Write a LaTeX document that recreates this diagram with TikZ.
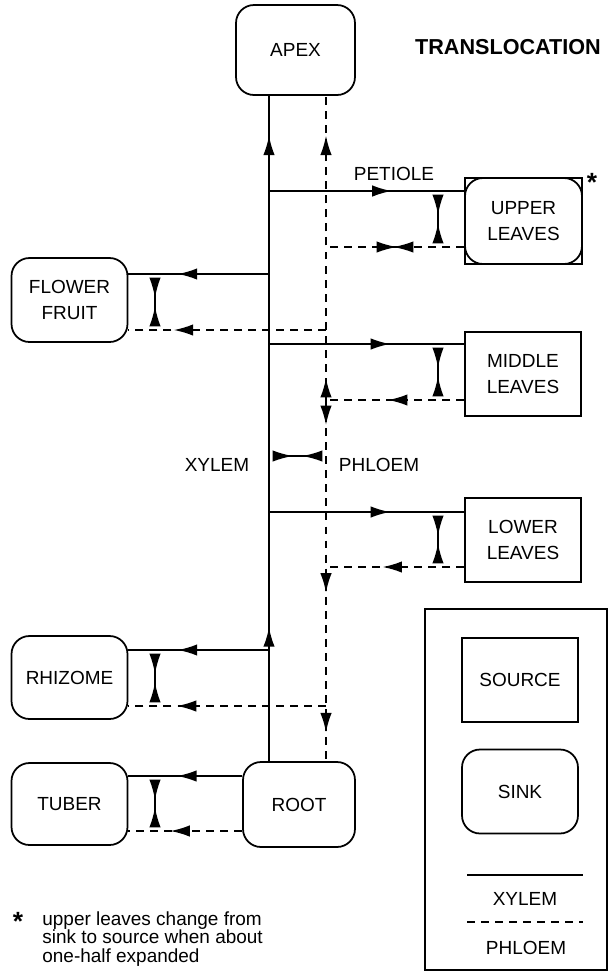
\documentclass[tikz,border=0pt]{standalone}
\usepackage{fontspec}
\setmainfont{Liberation Sans}
\usetikzlibrary{arrows.meta}
\usetikzlibrary{decorations.markings}

\tikzset{
  organ/.style={draw, line width=1pt, inner sep=0pt, align=center,
    minimum width=2.32cm, minimum height=1.68cm, font=\fontsize{10.8}{14.5}\selectfont},
  sinkbox/.style={organ, rounded corners=0.36cm},
  sourcebox/.style={organ},
  xyl/.style={line width=0.9pt},
  phl/.style={line width=0.9pt, dash pattern=on 4.5pt off 3.5pt},
  midtip/.style={postaction={decorate, decoration={markings,
    mark=at position #1 with {\arrow{Latex[length=11pt,width=6.5pt]}}}}},
  exch/.style={line width=0.9pt, solid, shorten <=2pt, shorten >=2pt,
    {Latex[reversed,length=11.5pt,width=6.5pt]}-{Latex[reversed,length=11.5pt,width=6.5pt]}}
}

\begin{document}
\begin{tikzpicture}[x=0.02cm, y=-0.02cm, font=\fontsize{10.8}{14}\selectfont]
\useasboundingbox (0,0) rectangle (609,975);
\def\xt{269}
\def\pht{326}

\node (apex) [sinkbox, minimum width=2.38cm, minimum height=1.8cm] at (295.5,50) {APEX};
\node (title) [font=\bfseries\fontsize{12.3}{14}\selectfont] at (508,47) {TRANSLOCATION};
\node (uleaves) [sourcebox, minimum width=2.34cm, minimum height=1.72cm] at (523.5,221) {UPPER\\LEAVES};
\node (uround) [sinkbox, minimum width=2.34cm, minimum height=1.72cm] at (523.5,221) {};
\node (ustar) [font=\bfseries\fontsize{15}{15}\selectfont, inner sep=0pt] at (592,182) {*};
\node (flower) [sinkbox] at (69.5,300) {FLOWER\\FRUIT};
\node (mleaves) [sourcebox] at (523,374) {MIDDLE\\LEAVES};
\node (lleaves) [sourcebox] at (523,540) {LOWER\\LEAVES};
\node (rhizome) [sinkbox, minimum height=1.66cm] at (69.5,677.5) {RHIZOME};
\node (tuber) [sinkbox, minimum height=1.64cm] at (69.5,804) {TUBER};
\node (root) [sinkbox, minimum width=2.24cm, minimum height=1.7cm] at (299,804.5) {ROOT};

\node (petiole) at (394,174) {PETIOLE};
\node (xlabel) at (217,465) {XYLEM};
\node (plabel) at (379,465) {PHLOEM};

\coordinate (ex) at (438,0);
\coordinate (fx) at (155,0);
\coordinate (xu) at (\xt,191);
\coordinate (xf) at (\xt,274);
\coordinate (xm) at (\xt,344);
\coordinate (xe) at (\xt,456);
\coordinate (xl) at (\xt,512);
\coordinate (xr) at (\xt,650);
\coordinate (pu) at (\pht,247);
\coordinate (pf) at (\pht,330);
\coordinate (pm) at (\pht,400);
\coordinate (pe) at (\pht,456);
\coordinate (pl) at (\pht,567);
\coordinate (pr) at (\pht,706);
\coordinate (ua) at (373,247);
\coordinate (ub) at (417,247);

\draw [xyl, midtip=0.201, midtip=0.94] (xu |- root.north) -- (xu |- apex.south);
\draw [xyl, midtip=0.628] (xu) -- (xu -| uleaves.west);
\draw [xyl, midtip=0.648] (xf) -- (xf -| flower.east);
\draw [xyl, midtip=0.62] (xm) -- (xm -| mleaves.west);
\draw [xyl, midtip=0.62] (xl) -- (xl -| lleaves.west);
\draw [xyl, midtip=0.648] (xr) -- (xr -| rhizome.east);
\draw [xyl, midtip=0.57] (root.west |- 0,776) -- (tuber.east |- 0,776);

\draw [phl, midtip=0.072, midtip=0.869] (pm) -- (pm |- apex.south);
\draw [phl, midtip=0.069, midtip=0.533, midtip=0.92] (pm) -- (pm |- root.north);
\draw [phl] (pu -| uleaves.west) -- (pu);
\draw [phl, midtip=0.77] (pf) -- (pf -| flower.east);
\draw [phl, midtip=0.55] (pm -| mleaves.west) -- (pm);
\draw [phl, midtip=0.59] (pl -| lleaves.west) -- (pl);
\draw [phl, midtip=0.754] (pr) -- (pr -| rhizome.east);
\draw [phl, midtip=0.63] (root.west |- 0,831) -- (tuber.east |- 0,831);

\draw [exch] (ua) -- (ub);
\draw [exch] (xe) -- (pe);
\draw [exch] (xu -| ex) -- (pu -| ex);
\draw [exch] (xm -| ex) -- (pm -| ex);
\draw [exch] (xl -| ex) -- (pl -| ex);
\draw [exch] (xf -| fx) -- (pf -| fx);
\draw [exch] (xr -| fx) -- (pr -| fx);
\draw [exch] (fx |- 0,776) -- (fx |- 0,831);

\draw [line width=1pt] (425,609) rectangle (607,970);
\node (lsource) [sourcebox] at (520,680) {SOURCE};
\node (lsink) [sinkbox] at (520,791.5) {SINK};
\draw [xyl] (467,875) -- (583,875);
\node (lxyl) at (525,899) {XYLEM};
\draw [phl] (467,922) -- (583,922);
\node (lphl) at (526,948) {PHLOEM};

\node (fstar) [font=\bfseries\fontsize{15}{15}\selectfont, inner sep=0pt] at (18,921) {*};
\node (fnote) [anchor=north west, align=left, inner sep=0pt,
  font=\fontsize{10.8}{10.6}\selectfont] at (42,911)
  {upper leaves change from\\sink to source when about\\one-half expanded};
\end{tikzpicture}
\end{document}
